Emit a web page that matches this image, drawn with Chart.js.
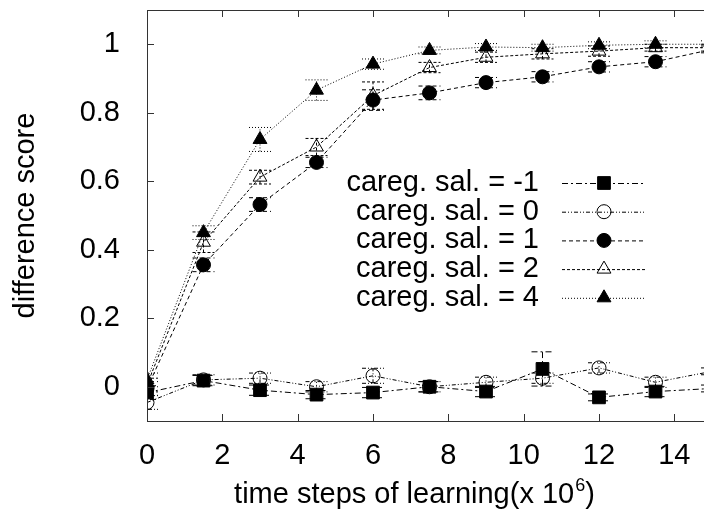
<!DOCTYPE html>
<html>
<head>
<meta charset="utf-8">
<script src="https://cdn.jsdelivr.net/npm/chart.js@4.4.0/dist/chart.umd.min.js"></script>
<style>
  html, body { margin: 0; padding: 0; background: #fff; overflow: hidden; }
  canvas { display: block; }
</style>
</head>
<body>
<canvas id="chart" width="730" height="517" style="width:730px;height:517px"></canvas>
<script>
// learning time in units of 10^6 steps
const steps = [0, 1.5, 3, 4.5, 6, 7.5, 9, 10.5, 12, 13.5, 15];
const xTicks = [0, 2, 4, 6, 8, 10, 12, 14];
const yTicks = [0, 0.2, 0.4, 0.6, 0.8, 1];

const seriesLabels = [
    "careg. sal. = -1",
    "careg. sal. = 0",
    "careg. sal. = 1",
    "careg. sal. = 2",
    "careg. sal. = 4"
];

const salNeg1 = [-0.017, 0.018, -0.010, -0.023, -0.017, 0.000, -0.014, 0.052, -0.031, -0.014, -0.005];
const sal0    = [-0.046, 0.020, 0.025, 0.000, 0.032, 0.000, 0.013, 0.025, 0.055, 0.013, 0.045];
const sal1    = [-0.005, 0.356, 0.532, 0.655, 0.837, 0.858, 0.888, 0.905, 0.934, 0.949, 0.985];
const sal2    = [0.005, 0.422, 0.612, 0.700, 0.850, 0.932, 0.962, 0.972, 0.980, 0.990, 0.990];
const sal4    = [0.020, 0.450, 0.722, 0.866, 0.942, 0.982, 0.992, 0.990, 0.997, 1.000, 1.000];

const errNeg1 = [0.020, 0.015, 0.015, 0.012, 0.015, 0.015, 0.015, 0.050, 0.010, 0.015, 0.010];
const err0    = [0.020, 0.015, 0.015, 0.015, 0.022, 0.015, 0.015, 0.015, 0.015, 0.015, 0.010];
const err1    = [0.020, 0.020, 0.020, 0.015, 0.030, 0.020, 0.015, 0.015, 0.015, 0.015, 0.010];
const err2    = [0.020, 0.030, 0.020, 0.025, 0.040, 0.015, 0.015, 0.015, 0.015, 0.010, 0.010];
const err4    = [0.020, 0.020, 0.035, 0.030, 0.015, 0.010, 0.010, 0.010, 0.010, 0.010, 0.010];

const FONT = '"Liberation Sans", Arial, Helvetica, sans-serif';
const AXIS_COLOR = "#333";

function points(values) {
    return values.map((v, i) => ({ x: steps[i], y: v }));
}

function series(idx, values, errors, style, radius, filled, dash) {
    return {
        label: seriesLabels[idx],
        data: points(values),
        errors: errors,
        borderColor: "#000",
        borderWidth: 1,
        borderDash: dash,
        pointStyle: style,
        pointRadius: radius,
        pointBorderWidth: 1,
        pointBorderColor: "#000",
        pointBackgroundColor: filled ? "#000" : "rgba(255,255,255,0)",
        tension: 0,
        fill: false,
        order: 5 - idx
    };
}

function fmtTick(v) {
    return String(Math.round(v * 10) / 10);
}

// gnuplot-like extras: error bars, inward ticks, key and axis titles
const extras = {
    id: "extras",
    beforeDatasetsDraw(chart) {
        const { ctx, chartArea: a, scales: { x, y } } = chart;
        ctx.save();
        ctx.beginPath();
        ctx.rect(a.left, a.top, a.right - a.left, a.bottom - a.top);
        ctx.clip();
        chart.data.datasets.forEach(ds => {
            ctx.strokeStyle = "#000";
            ctx.lineWidth = 1;
            ctx.setLineDash(ds.borderDash);
            ds.data.forEach((p, i) => {
                const e = ds.errors[i];
                const px = x.getPixelForValue(p.x);
                const y0 = y.getPixelForValue(p.y - e);
                const y1 = y.getPixelForValue(p.y + e);
                ctx.beginPath();
                ctx.moveTo(px, y0); ctx.lineTo(px, y1);
                ctx.moveTo(px - 11, y0); ctx.lineTo(px + 11, y0);
                ctx.moveTo(px - 11, y1); ctx.lineTo(px + 11, y1);
                ctx.stroke();
            });
        });
        ctx.restore();
    },
    afterDraw(chart) {
        const { ctx, chartArea: a, scales: { x, y } } = chart;
        ctx.save();
        ctx.strokeStyle = AXIS_COLOR;
        ctx.lineWidth = 1;
        ctx.setLineDash([]);
        ctx.strokeRect(a.left + 0.5, a.top + 0.5, a.right - a.left, a.bottom - a.top);
        ctx.beginPath();
        xTicks.forEach(v => {
            const px = Math.round(x.getPixelForValue(v)) + 0.5;
            ctx.moveTo(px, a.bottom); ctx.lineTo(px, a.bottom - 7);
            ctx.moveTo(px, a.top); ctx.lineTo(px, a.top + 7);
        });
        yTicks.forEach(v => {
            const py = Math.round(y.getPixelForValue(v)) + 0.5;
            ctx.moveTo(a.left, py); ctx.lineTo(a.left + 7, py);
            ctx.moveTo(a.right, py); ctx.lineTo(a.right - 7, py);
        });
        ctx.stroke();

        // key
        ctx.fillStyle = "#000";
        ctx.font = "29px " + FONT;
        ctx.textBaseline = "middle";
        ctx.textAlign = "right";
        chart.data.datasets.forEach((ds, i) => {
            const ry = 183 + i * 28.7;
            ctx.fillText(ds.label, 539, ry);
            ctx.strokeStyle = "#000";
            ctx.setLineDash(ds.borderDash);
            ctx.beginPath();
            ctx.moveTo(562, ry + 0.5); ctx.lineTo(645, ry + 0.5);
            ctx.stroke();
            ctx.setLineDash([]);
            ctx.fillStyle = ds.pointBackgroundColor;
            Chart.helpers.drawPoint(ctx, {
                pointStyle: ds.pointStyle, radius: ds.pointRadius,
                rotation: 0, borderWidth: 1
            }, 604, ry);
            ctx.fillStyle = "#000";
        });

        // y title
        ctx.save();
        ctx.translate(26, (a.top + a.bottom) / 2);
        ctx.rotate(-Math.PI / 2);
        ctx.textAlign = "center";
        ctx.textBaseline = "middle";
        ctx.fillText("difference score", 0, 0);
        ctx.restore();

        // x title with superscript exponent
        const main = "time steps of learning(x 10";
        const sup = "6";
        const tail = ")";
        ctx.textAlign = "left";
        ctx.textBaseline = "alphabetic";
        ctx.font = "29px " + FONT;
        const wMain = ctx.measureText(main).width;
        const wTail = ctx.measureText(tail).width;
        ctx.font = "18px " + FONT;
        const wSup = ctx.measureText(sup).width;
        const total = wMain + wSup + wTail + 1;
        let tx = 414.5 - total / 2;
        const base = 503;
        ctx.font = "29px " + FONT;
        ctx.fillText(main, tx, base);
        tx += wMain + 1;
        ctx.font = "18px " + FONT;
        ctx.fillText(sup, tx, base - 12);
        tx += wSup;
        ctx.font = "29px " + FONT;
        ctx.fillText(tail, tx, base);
        ctx.restore();
    }
};

const chart = new Chart(document.getElementById("chart"), {
    type: "line",
    data: {
        datasets: [
            series(0, salNeg1, errNeg1, "rect", 9, true, [6, 3, 2, 3]),
            series(1, sal0, err0, "circle", 7, false, [4, 2, 1, 2, 1, 2]),
            series(2, sal1, err1, "circle", 7, true, [4, 3]),
            series(3, sal2, err2, "triangle", 8, false, [3, 2]),
            series(4, sal4, err4, "triangle", 8, true, [1, 2])
        ]
    },
    options: {
        responsive: false,
        animation: false,
        layout: { padding: { top: 9, right: 18, left: 0, bottom: 0 } },
        plugins: {
            legend: { display: false },
            tooltip: { enabled: false }
        },
        scales: {
            x: {
                type: "linear",
                min: 0,
                max: 15,
                afterFit: s => { s.height = 96; s.paddingLeft = 0; s.paddingRight = 0; },
                afterBuildTicks: s => { s.ticks = xTicks.map(v => ({ value: v })); },
                grid: { display: false },
                border: { display: false },
                ticks: {
                    color: "#000",
                    padding: 10,
                    maxRotation: 0,
                    font: { family: FONT, size: 29 },
                    callback: v => fmtTick(v)
                }
            },
            y: {
                type: "linear",
                min: -0.1,
                max: 1.1,
                afterFit: s => { s.width = 147; s.paddingTop = 0; s.paddingBottom = 0; },
                afterBuildTicks: s => { s.ticks = yTicks.map(v => ({ value: v })); },
                grid: { display: false },
                border: { display: false },
                ticks: {
                    color: "#000",
                    padding: 19,
                    font: { family: FONT, size: 29 },
                    callback: v => fmtTick(v)
                }
            }
        }
    },
    plugins: [extras]
});
</script>
</body>
</html>
